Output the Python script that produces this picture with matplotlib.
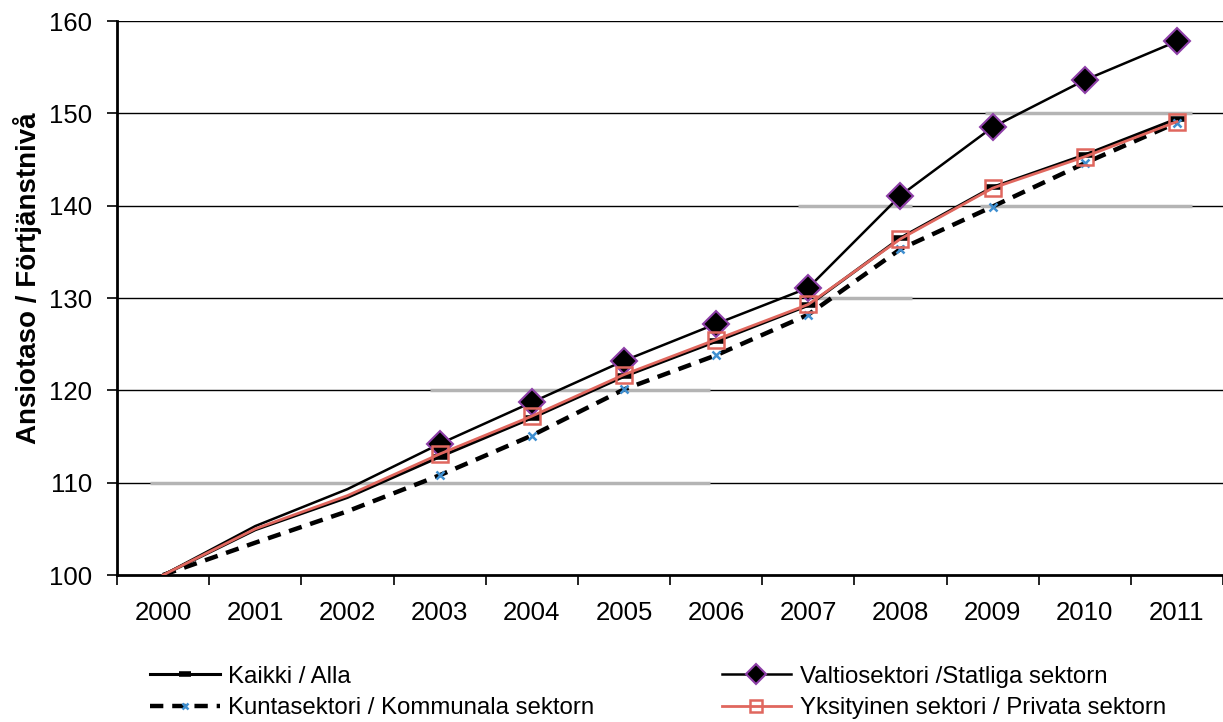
import numpy as np
import matplotlib.pyplot as plt

plt.rcParams['font.family'] = ['Liberation Sans', 'DejaVu Sans']

years = ["2000", "2001", "2002", "2003", "2004", "2005",
         "2006", "2007", "2008", "2009", "2010", "2011"]

kaikki = [100, 104.9, 108.4, 112.8, 117.0, 121.5, 125.3, 129.2, 136.5, 142.0, 145.5, 149.4]
valtio = [100, 105.3, 109.3, 114.2, 118.7, 123.2, 127.2, 131.1, 141.1, 148.5, 153.6, 157.8]
kunta = [100, 103.5, 106.9, 110.8, 115.1, 120.1, 123.8, 128.2, 135.3, 139.9, 144.6, 149.0]
yksityinen = [100, 105.0, 108.6, 113.1, 117.2, 121.7, 125.5, 129.3, 136.4, 141.9, 145.3, 149.1]

labels = ["Kaikki / Alla", "Kuntasektori / Kommunala sektorn",
          "Valtiosektori /Statliga sektorn", "Yksityinen sektori / Privata sektorn"]

# grey patches lying over some of the gridlines in the original
grey_segments = [(110, -0.14, 5.93), (120, 2.9, 5.93), (130, 7.05, 8.13),
                 (140, 6.89, 8.13), (140, 8.86, 11.16), (150, 8.92, 11.16)]

x = np.arange(len(years))
marks = list(range(3, len(years)))

fig = plt.figure(figsize=(12.23, 7.22), dpi=100)
ax = fig.add_axes([0.0957, 0.2036, 0.9043, 0.7673])

for yv in range(110, 161, 10):
    ax.axhline(yv, color="black", linewidth=1.0, zorder=1)
for yv, x0, x1 in grey_segments:
    ax.hlines(yv, x0, x1, color="#b4b4b4", linewidth=2.5, zorder=1.5)

ax.plot(x, valtio, color="black", linewidth=1.8, marker="D", markersize=13,
        markerfacecolor="black", markeredgecolor="#8e3fa8", markeredgewidth=1.5,
        markevery=marks, label=labels[2], zorder=3)
ax.plot(x, kaikki, color="black", linewidth=2.2, marker="_", markersize=11,
        markeredgewidth=4, markevery=marks, label=labels[0], zorder=3)
ax.plot(x, kunta, color="black", linewidth=3.2, linestyle=(0, (3, 2)),
        marker="x", markersize=6, markeredgecolor="#3f8fd0", markeredgewidth=1.8,
        markevery=marks, label=labels[1], zorder=3)
ax.plot(x, yksityinen, color="#e0675e", linewidth=2.0, marker="s", markersize=12,
        markerfacecolor="none", markeredgecolor="#e0675e", markeredgewidth=1.8,
        markevery=marks, label=labels[3], zorder=4)

ax.set_xlim(-0.5, 11.5)
ax.set_ylim(100, 160)
ax.set_yticks(range(100, 161, 10))
ax.set_xticks(x)
ax.set_xticklabels(years)
ax.set_xticks(np.arange(-0.5, 11.6, 1), minor=True)
ax.tick_params(axis="x", which="major", length=0, pad=19, labelsize=18.5)
ax.tick_params(axis="x", which="minor", length=7, width=1.2, direction="out")
ax.tick_params(axis="y", length=7, width=1.2, direction="out", pad=11, labelsize=18.5)

for s in ["top", "right"]:
    ax.spines[s].set_visible(False)
for s in ["left", "bottom"]:
    ax.spines[s].set_linewidth(2.0)

ax.set_ylabel("Ansiotaso / Förtjänstnivå", fontsize=20, fontweight="bold")
ax.yaxis.set_label_coords(-0.068, 0.535)

handles, labs = ax.get_legend_handles_labels()
order = [labs.index(l) for l in labels]
fig.legend([handles[i] for i in order], [labs[i] for i in order],
           loc="upper left", bbox_to_anchor=(0.1226, 0.078), ncol=2,
           frameon=False, fontsize=17.3, handlelength=2.9, handletextpad=0.35,
           columnspacing=5.3, labelspacing=0.4, borderpad=0, borderaxespad=0,
           markerscale=0.75)

fig.savefig("out.png", dpi=100)
